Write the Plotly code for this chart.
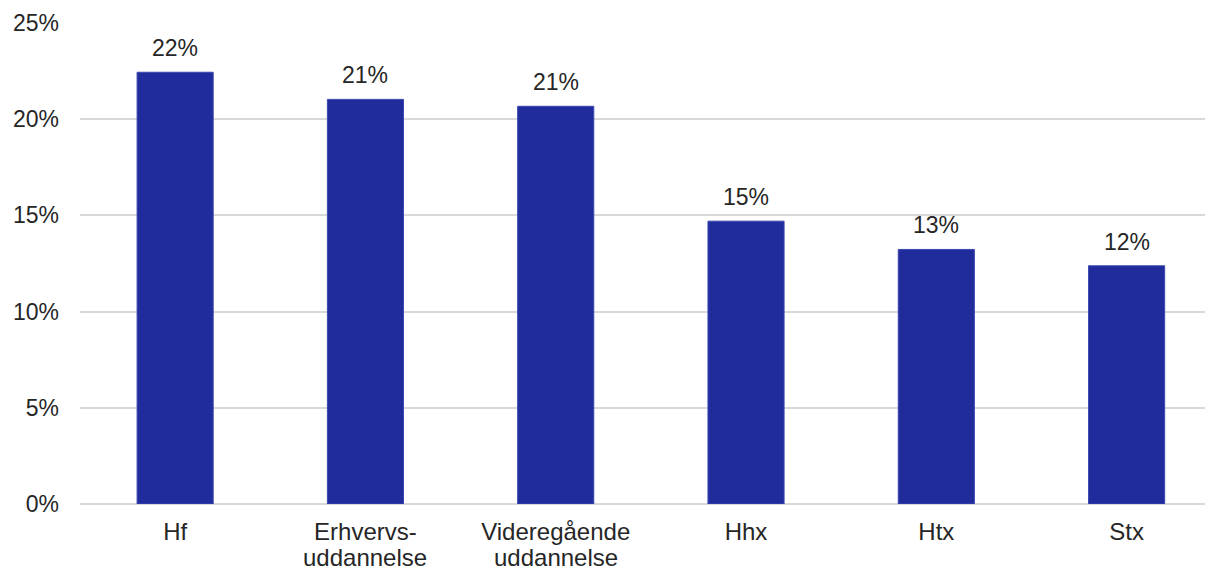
import plotly.graph_objects as go

cat_line1 = ["Hf", "Erhvervs-", "Videregående", "Hhx", "Htx", "Stx"]
cat_line2 = ["", "uddannelse", "uddannelse", "", "", ""]
values = [22.44, 21.03, 20.67, 14.70, 13.23, 12.38]
labels = ["22%", "21%", "21%", "15%", "13%", "12%"]
y_ticks = [0, 5, 10, 15, 20, 25]
y_ticktext = ["0%", "5%", "10%", "15%", "20%", "25%"]

BAR = "#212C9C"
TEXT = "#262626"
FONT = "Liberation Sans, Arial, sans-serif"

xs = list(range(len(cat_line1)))

fig = go.Figure()
fig.add_trace(go.Bar(
    x=xs,
    y=values,
    marker=dict(color=BAR, line=dict(color="#3A47B0", width=1)),
    width=0.4,
    hoverinfo="skip",
))

for i, (v, t) in enumerate(zip(values, labels)):
    fig.add_annotation(x=i, y=v, text=t, showarrow=False, yanchor="bottom",
                       yshift=9, font=dict(size=23, color=TEXT, family=FONT))

# second line of the two-line category labels (tighter line spacing than ticks allow)
for i, t in enumerate(cat_line2):
    if t:
        fig.add_annotation(x=i, xref="x", y=0, yref="paper", text=t, showarrow=False,
                           yanchor="middle", yshift=-53, font=dict(size=24, color=TEXT, family=FONT))

# page body has a default 8px margin, so the figure is sized to fill the window from (8, 8)
fig.update_layout(
    width=1205, height=560,
    margin=dict(l=72, r=0, t=15, b=64),
    plot_bgcolor="white", paper_bgcolor="white",
    showlegend=False,
    font=dict(family=FONT, color=TEXT),
    xaxis=dict(
        range=[-0.5, 5.454],
        tickmode="array",
        tickvals=xs,
        ticktext=cat_line1,
        tickfont=dict(size=24, color=TEXT, family=FONT),
        showgrid=False, zeroline=False, showline=False,
        ticks="", ticklabelstandoff=11, automargin=False,
    ),
    yaxis=dict(
        range=[0, 25],
        tickmode="array",
        tickvals=y_ticks,
        ticktext=y_ticktext,
        tickfont=dict(size=23, color=TEXT, family=FONT),
        showgrid=True, gridcolor="#d9d9d9", gridwidth=1.5,
        zeroline=True, zerolinecolor="#d9d9d9", zerolinewidth=1.5,
        showline=False, ticks="", ticklabelstandoff=20, automargin=False,
    ),
)

fig.write_html("out.html")
